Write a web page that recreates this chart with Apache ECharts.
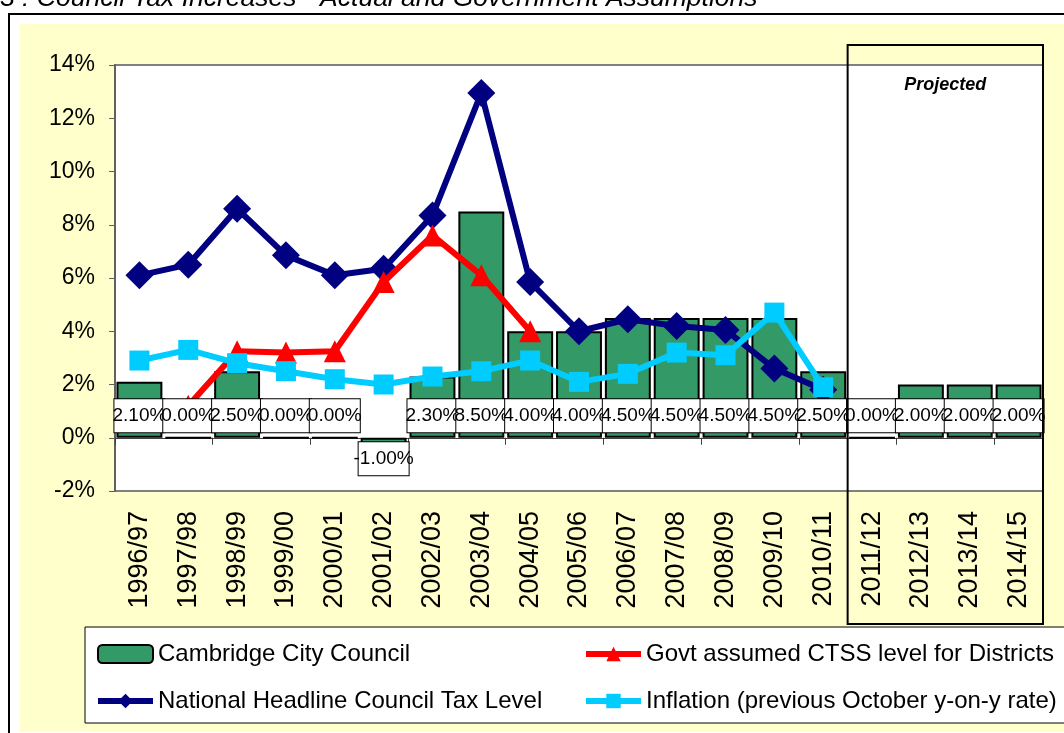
<!DOCTYPE html>
<html><head><meta charset="utf-8">
<script src="https://cdn.jsdelivr.net/npm/echarts@6/dist/echarts.min.js"></script>
<style>html,body{margin:0;padding:0;background:#fff}#c{width:1064px;height:733px}</style>
</head><body><div id="c"></div>
<script>
const categories = ['1996/97','1997/98','1998/99','1999/00','2000/01','2001/02','2002/03','2003/04','2004/05','2005/06','2006/07','2007/08','2008/09','2009/10','2010/11','2011/12','2012/13','2013/14','2014/15'];
const cambridge = [2.1, 0, 2.5, 0, 0, -1, 2.3, 8.5, 4.0, 4.0, 4.5, 4.5, 4.5, 4.5, 2.5, 0, 2.0, 2.0, 2.0];
const govtCTSS = [null, 1.2, 3.25, 3.2, 3.25, 5.85, 7.6, 6.1, 4.0, null, null, null, null, null, null, null, null, null, null];
const national = [6.1, 6.5, 8.6, 6.85, 6.1, 6.35, 8.35, 12.95, 5.85, 4.0, 4.45, 4.2, 4.05, 2.6, 1.8, null, null, null, null];
const inflation = [2.9, 3.3, 2.8, 2.5, 2.2, 2.0, 2.3, 2.5, 2.9, 2.1, 2.4, 3.2, 3.1, 4.7, 1.9, null, null, null, null];
const yTicks = {min: -2, max: 14, interval: 2};
const projectedFrom = 15;
const titleText = '3 : Council Tax Increases - Actual and Government Assumptions';

const FONT = "'Liberation Sans', Arial, sans-serif";
const chart = echarts.init(document.getElementById('c'), null, {renderer: 'canvas'});

const legendText = {fontFamily: FONT, fontSize: 24, color: '#000'};
const option = {
  backgroundColor: '#ffffff',
  animation: false,
  grid: {left: 115, right: 21, top: 65, bottom: 242, show: true, backgroundColor: '#ffffff', borderColor: '#808080', borderWidth: 2},
  legend: [
    {data: ['Cambridge City Council', 'National Headline Council Tax Level'], orient: 'vertical', left: 90, top: 637, itemGap: 23, itemWidth: 55, itemHeight: 18,
     textStyle: legendText, selectedMode: false, lineStyle: {width: 6}, itemStyle: {borderRadius: 0}},
    {data: ['Govt assumed CTSS level for Districts', 'Inflation (previous October y-on-y rate)'], orient: 'vertical', left: 578, top: 637, itemGap: 23, itemWidth: 55, itemHeight: 18,
     textStyle: legendText, selectedMode: false, lineStyle: {width: 6}}
  ],
  xAxis: [
    {type: 'category', data: categories, position: 'bottom', axisLine: {show: false, onZero: false}, axisTick: {show: false},
     axisLabel: {rotate: 90, fontFamily: FONT, fontSize: 27, color: '#000', margin: 20, interval: 0}},
    {type: 'category', data: categories, position: 'bottom', axisLine: {show: true, onZero: true, lineStyle: {color: '#404040', width: 1}},
     axisTick: {show: true, length: 7, lineStyle: {color: '#404040'}}, axisLabel: {show: false}}
  ],
  yAxis: {type: 'value', min: yTicks.min, max: yTicks.max, interval: yTicks.interval,
    axisLine: {show: true, lineStyle: {color: '#606060', width: 2}},
    axisTick: {show: true, length: 6, lineStyle: {color: '#606060'}},
    splitLine: {show: false},
    axisLabel: {formatter: '{value}%', fontFamily: FONT, fontSize: 23, color: '#000', margin: 20}},
  series: [
    {name: 'Cambridge City Council', type: 'bar', data: cambridge, barCategoryGap: '6%', z: 2,
     itemStyle: {color: '#339966', borderColor: '#000', borderWidth: 2}},
    {name: 'Govt assumed CTSS level for Districts', type: 'line', data: govtCTSS, z: 4,
     lineStyle: {color: '#ff0000', width: 6}, itemStyle: {color: '#ff0000'}, symbol: 'triangle', symbolSize: 22},
    {name: 'National Headline Council Tax Level', type: 'line', data: national, z: 3,
     lineStyle: {color: '#000080', width: 6}, itemStyle: {color: '#000080'}, symbol: 'diamond', symbolSize: 28},
    {name: 'Inflation (previous October y-on-y rate)', type: 'line', data: inflation, z: 5,
     lineStyle: {color: '#00ccff', width: 6}, itemStyle: {color: '#00ccff'}, symbol: 'rect', symbolSize: 20},
    {name: 'labels', type: 'custom', z: 10, silent: true, data: cambridge.map((v, i) => [i, v]),
     renderItem: function (params, api) {
       const v = api.value(1);
       const p = api.coord([api.value(0), 0]);
       return {type: 'text', z2: 10, x: p[0], y: p[1] + (v < 0 ? 21 : -22),
         style: {text: v.toFixed(2) + '%', align: 'center', verticalAlign: 'middle', fontFamily: FONT, fontSize: 19, fill: '#000',
           backgroundColor: '#fff', borderColor: '#000', borderWidth: 1, width: 48, lineHeight: 19, padding: [7, 1]}};
     }}
  ]
};
chart.setOption(option);

const c14 = chart.convertToPixel({xAxisIndex: 0}, categories[projectedFrom - 1]);
const c15 = chart.convertToPixel({xAxisIndex: 0}, categories[projectedFrom]);
const boxLeft = (c14 + c15) / 2;
const boxRight = 1064 - 21;
chart.setOption({
  graphic: [
    {type: 'rect', z: -10, silent: true, shape: {x: 9, y: 14, width: 1080, height: 740}, style: {fill: '#fff', stroke: '#000', lineWidth: 2}},
    {type: 'rect', z: -9, silent: true, shape: {x: 20, y: 24, width: 1060, height: 708}, style: {fill: '#ffffcc'}},
    {type: 'text', z: 50, x: 0, y: 12, style: {text: titleText, fontFamily: FONT, fontStyle: 'italic', fontSize: 26.5, fill: '#000', verticalAlign: 'bottom', lineHeight: 26}},
    {type: 'rect', z: -5, silent: true, shape: {x: 85, y: 627, width: 1000, height: 96}, style: {fill: '#fff', stroke: '#000', lineWidth: 1}},
    {type: 'rect', z: 60, silent: true, shape: {x: boxLeft, y: 45, width: boxRight - boxLeft, height: 579}, style: {fill: 'none', stroke: '#000', lineWidth: 2}},
    {type: 'text', z: 60, x: (boxLeft + boxRight) / 2, y: 85, style: {text: 'Projected', fontFamily: FONT, fontStyle: 'italic', fontWeight: 'bold', fontSize: 18, fill: '#000', align: 'center', verticalAlign: 'middle'}}
  ]
});
</script></body></html>
